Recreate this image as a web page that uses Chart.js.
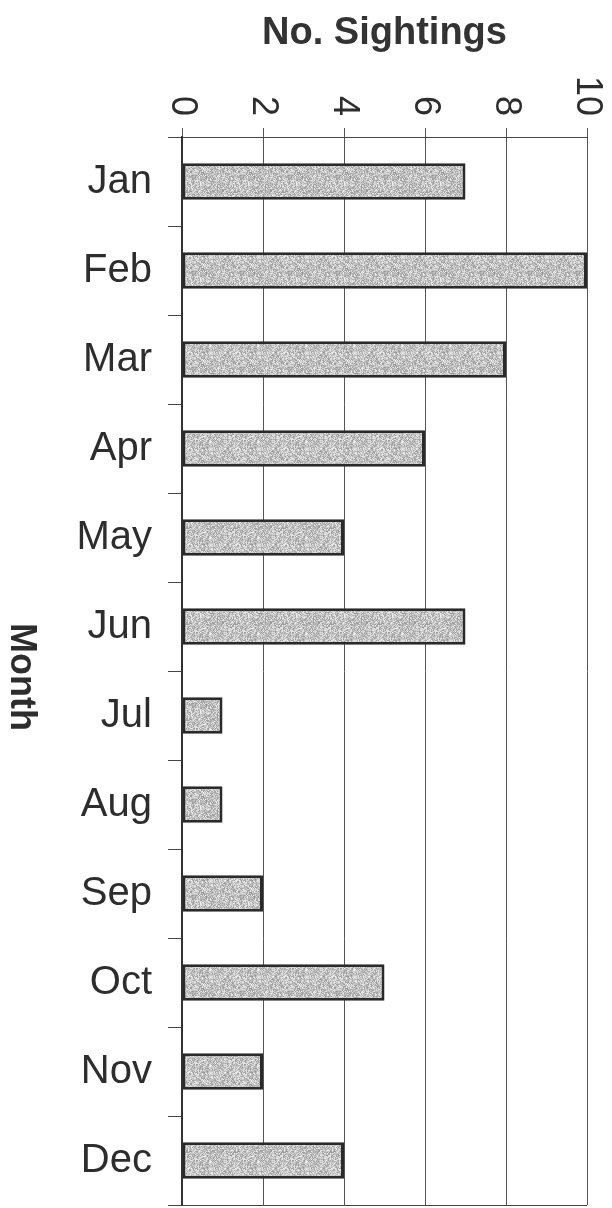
<!DOCTYPE html>
<html>
<head>
<meta charset="utf-8">
<script src="https://cdn.jsdelivr.net/npm/chart.js@4/dist/chart.umd.min.js"></script>
<style>
  html, body { margin: 0; padding: 0; background: #fff; }
  canvas { display: block; }
</style>
</head>
<body>
<canvas id="chart" width="612" height="1208"></canvas>
<script>
// ── Data ─────────────────────────────────────────────────────
const months    = ['Jan', 'Feb', 'Mar', 'Apr', 'May', 'Jun', 'Jul', 'Aug', 'Sep', 'Oct', 'Nov', 'Dec'];
const sightings = [7, 10, 8, 6, 4, 7, 1, 1, 2, 5, 2, 4];
const xTicks    = [0, 2, 4, 6, 8, 10];

const ink = '#2d2d2d';

// ── Stippled grey fill for the bars ──────────────────────────
function stipple() {
  const c = document.createElement('canvas');
  c.width = c.height = 48;
  const g = c.getContext('2d');
  const img = g.createImageData(48, 48);
  let s = 12345;
  for (let i = 0; i < img.data.length; i += 4) {
    s = (s * 1103515245 + 12345) & 0x7fffffff;
    const v = 150 + ((s >> 16) % 90);
    img.data[i] = img.data[i + 1] = img.data[i + 2] = v;
    img.data[i + 3] = 255;
  }
  g.putImageData(img, 0, 0);
  return g.createPattern(c, 'repeat');
}

// ── Rotated x tick labels + "Month" title ────────────────────
const rotatedText = {
  id: 'rotatedText',
  afterDraw(chart) {
    const { ctx, chartArea } = chart;
    const x = chart.scales.x;
    ctx.save();
    ctx.fillStyle = ink;
    ctx.font = '36px "Liberation Sans", Arial, sans-serif';
    ctx.textAlign = 'right';
    ctx.textBaseline = 'middle';
    x.ticks.forEach(t => {
      ctx.save();
      ctx.translate(x.getPixelForValue(t.value), chartArea.top - 21);
      ctx.rotate(Math.PI / 2);
      ctx.fillText(String(t.value), 0, 0);
      ctx.restore();
    });
    ctx.font = 'bold 36px "Liberation Sans", Arial, sans-serif';
    ctx.textAlign = 'center';
    ctx.translate(21, (chartArea.top + chartArea.bottom) / 2 + 6);
    ctx.rotate(Math.PI / 2);
    ctx.fillText('Month', 0, 0);
    ctx.restore();
  }
};

new Chart(document.getElementById('chart'), {
  type: 'bar',
  data: {
    labels: months,
    datasets: [{
      data: sightings,
      backgroundColor: stipple(),
      borderColor: '#2a2a2a',
      borderWidth: 3,
      borderSkipped: false,
      barPercentage: 0.41,
      categoryPercentage: 1
    }]
  },
  options: {
    indexAxis: 'y',
    responsive: false,
    animation: false,
    devicePixelRatio: 1,
    layout: { padding: { left: 0, top: 0, right: 25, bottom: 3 } },
    plugins: { legend: { display: false }, tooltip: { enabled: false } },
    scales: {
      x: {
        position: 'top',
        min: 0,
        max: 10,
        afterFit: s => { s.height = 137; s.paddingLeft = s.paddingRight = 0; },
        afterBuildTicks: s => { s.ticks = xTicks.map(v => ({ value: v })); },
        ticks: { display: false },
        grid: { color: '#555', lineWidth: 1, tickLength: 9, tickColor: '#555' },
        border: { display: true, color: '#444', width: 1 },
        title: {
          display: true,
          text: 'No. Sightings',
          color: '#333',
          font: { family: '"Liberation Sans", Arial, sans-serif', size: 38, weight: 'bold' },
          padding: { top: 11, bottom: 0 }
        }
      },
      y: {
        position: 'left',
        afterFit: s => { s.width = 182; s.paddingTop = s.paddingBottom = 0; },
        ticks: {
          color: ink,
          padding: 16,
          font: { family: '"Liberation Sans", Arial, sans-serif', size: 40 }
        },
        grid: {
          offset: true,
          tickLength: 14,
          tickColor: '#444',
          lineWidth: 1,
          color: c => (c.type === 'scale' || c.index === 0) ? '#444' : 'rgba(0,0,0,0)'
        },
        border: { display: true, color: '#333', width: 2 }
      }
    }
  },
  plugins: [rotatedText]
});
</script>
</body>
</html>
